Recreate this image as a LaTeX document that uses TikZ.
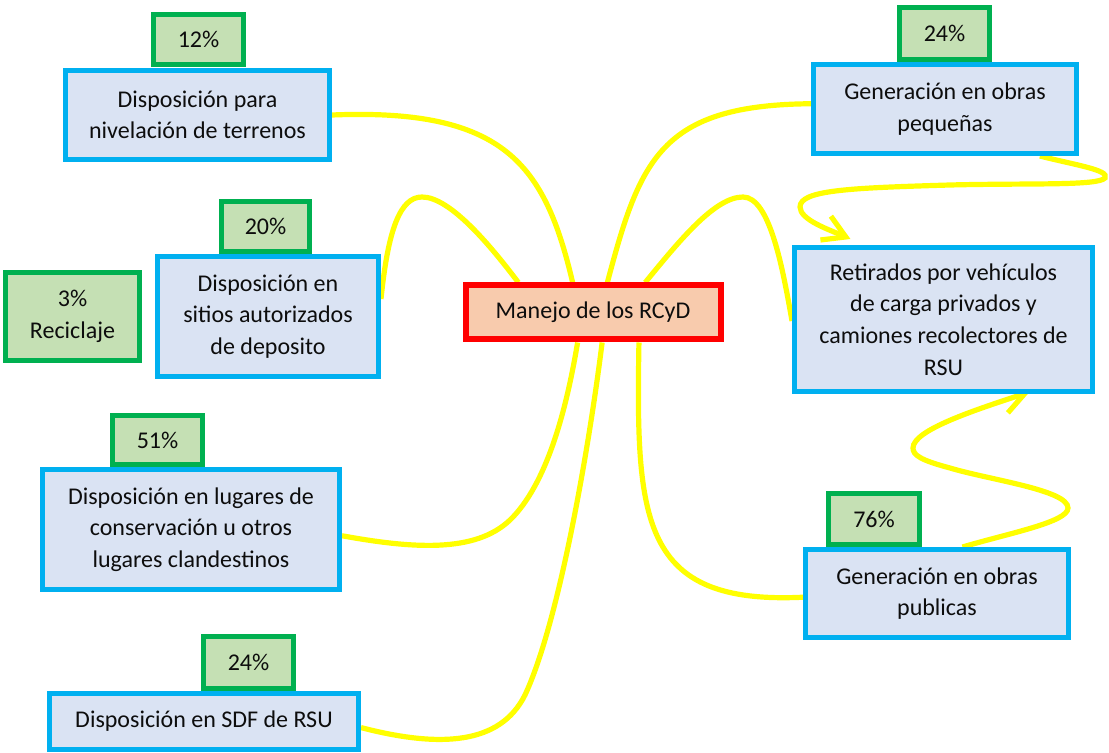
\documentclass[tikz,border=0pt]{standalone}
\usepackage{fontspec}
\setmainfont{Carlito}
\usetikzlibrary{arrows.meta,calc,backgrounds}

\definecolor{edgeblue}{HTML}{00B0F0}
\definecolor{fillblue}{HTML}{DAE3F3}
\definecolor{edgegreen}{HTML}{00B050}
\definecolor{fillgreen}{HTML}{C5E0B4}
\definecolor{edgered}{HTML}{FF0000}
\definecolor{fillpeach}{HTML}{F8CBAD}
\definecolor{linkyellow}{HTML}{FFFF00}
\definecolor{ink}{HTML}{0D0D0D}

% one drawing unit = 0.5pt; box sizes are given in drawing units
\tikzset{
  base/.style={line width=2.5pt, inner sep=0pt, align=center, text=ink,
    font=\fontsize{12}{15.8}\selectfont},
  topic/.style={base, draw=edgeblue, fill=fillblue},
  share/.style={base, draw=edgegreen, fill=fillgreen},
  hubbox/.style={base, draw=edgered, fill=fillpeach, line width=3pt},
  size/.style 2 args={minimum width=#1*0.5pt, minimum height=#2*0.5pt},
  link/.style={draw=linkyellow, line width=2.6pt},
  flow/.style={link, -{Straight Barb[length=11pt,width=13pt]}},
}

\begin{document}
\begin{tikzpicture}[x=0.5pt,y=-0.5pt]
\useasboundingbox (0,0) rectangle (1109,753);

% percentage tags (drawn first so the blue frames sit over their lower edge)
\node[share, size={90}{50}] (g1) at (198.5,39.5) {12\%};
\node[share, size={88}{50}] (g2) at (265.5,226.5) {20\%};
\node[share, size={134}{88}] (g3) at (72.5,316.5) {3\%\\Reciclaje};
\node[share, size={90}{49}] (g4) at (157.5,440) {51\%};
\node[share, size={90}{52}] (g5) at (248.5,662.5) {24\%};
\node[share, size={90}{52}] (g7) at (944.5,33.5) {24\%};
\node[share, size={91}{51}] (g9) at (874,519) {76\%};

% topic boxes
\node[topic, size={264}{89}] (b1) at (197.5,115)
  {Disposición para\\nivelación de terrenos};
\node[topic, size={221}{120}] (b2) at (268,316.5)
  {Disposición en\\sitios autorizados\\de deposito};
\node[topic, size={297}{120}] (b4) at (191,529.5)
  {Disposición en lugares de\\conservación u otros\\lugares clandestinos};
\node[topic, size={309}{56}] (b5) at (204,721.5)
  {Disposición en SDF de RSU};
\node[topic, size={263}{89}] (b7) at (945,109)
  {Generación en obras\\pequeñas};
\node[topic, size={298}{144}] (b8) at (943.5,319.5)
  {Retirados por vehículos\\de carga privados y\\camiones recolectores de\\RSU};
\node[topic, size={263}{88}] (b9) at (937,593.5)
  {Generación en obras\\publicas};

% central topic
\node[hubbox, size={255}{54}] (hub) at (593,312.5)
  {Manejo de los RCyD};

% attachment points on the frames
\coordinate (h1) at ($(hub.north west)!0.214!(hub.north east)$);
\coordinate (h2) at ($(hub.north west)!0.422!(hub.north east)$);
\coordinate (h3) at ($(hub.north west)!0.555!(hub.north east)$);
\coordinate (h4) at ($(hub.north west)!0.700!(hub.north east)$);
\coordinate (h5) at ($(hub.south west)!0.441!(hub.south east)$);
\coordinate (h6) at ($(hub.south west)!0.535!(hub.south east)$);
\coordinate (h7) at ($(hub.south west)!0.676!(hub.south east)$);
\coordinate (e2) at ($(b2.north east)!0.36!(b2.south east)$);
\coordinate (e4) at ($(b4.north east)!0.55!(b4.south east)$);
\coordinate (e5) at ($(b5.north east)!0.60!(b5.south east)$);
\coordinate (w7) at ($(b7.north west)!0.444!(b7.south west)$);
\coordinate (w8) at ($(b8.north west)!0.51!(b8.south west)$);
\coordinate (w9) at ($(b9.north west)!0.54!(b9.south west)$);
\coordinate (s7) at ($(b7.south west)!0.854!(b7.south east)$);
\coordinate (n8) at ($(b8.north west)!0.193!(b8.north east)+(0,-6)$);
\coordinate (n9) at ($(b9.north west)!0.595!(b9.north east)$);
\coordinate (s8) at ($(b8.south west)!0.784!(b8.south east)+(0,-2)$);

\begin{pgfonlayer}{background}
\fill[white] (0,0) rectangle (1109,753);

% branches from the central topic
\draw[link] (b1.east) .. controls (505,108) and (545,165) .. (h2);
\draw[link] (e2) .. controls (388,230) and (400,197) .. (422,197)
  .. controls (450,197) and (490,245) .. (h1);
\draw[link] (e4) .. controls (420,550) and (480,552) .. (513,517)
  .. controls (550,478) and (568,400) .. (h5);
\draw[link] (e5) .. controls (440,748) and (500,745) .. (525,695)
  .. controls (560,620) and (590,440) .. (h6);
\draw[link] (h7) .. controls (636,520) and (640,605) .. (w9);
\draw[link] (h3) .. controls (640,160) and (660,105) .. (w7);
\draw[link] (h4) .. controls (680,240) and (715,197) .. (743,197)
  .. controls (770,197) and (783,270) .. (w8);

% flows into the collection box
\draw[flow] (s7) .. controls (1075,165) and (1110,170) .. (1105,178)
  .. controls (1098,186) and (1030,183) .. (950,185)
  .. controls (850,188) and (800,190) .. (800,207)
  .. controls (800,220) and (830,230) .. (n8);
\draw[flow] (n9) .. controls (1010,533) and (1068,522) .. (1068,508)
  .. controls (1068,490) and (990,480) .. (950,468)
  .. controls (920,460) and (913,455) .. (913,448)
  .. controls (913,430) and (975,410) .. (s8);
\end{pgfonlayer}
\end{tikzpicture}
\end{document}
